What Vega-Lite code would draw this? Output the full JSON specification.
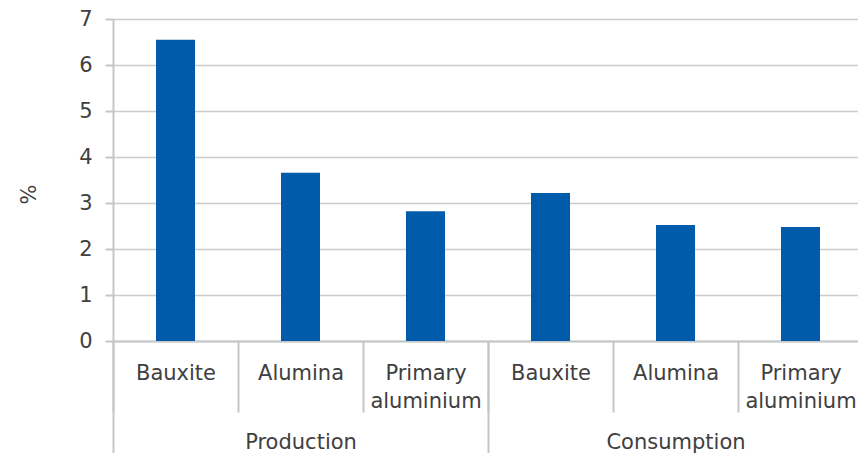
{
  "$schema": "https://vega.github.io/schema/vega-lite/v6.json",
  "width": 750,
  "height": 322,
  "autosize": "none",
  "padding": {"left": 113, "top": 19, "right": 0, "bottom": 112},
  "background": "#ffffff",
  "config": {
    "view": {"stroke": null},
    "font": "DejaVu Sans",
    "axis": {
      "labelFont": "DejaVu Sans",
      "titleFont": "DejaVu Sans",
      "labelFontSize": 21,
      "titleFontSize": 21,
      "labelColor": "#404040",
      "titleColor": "#404040",
      "titleFontWeight": "normal",
      "domainColor": "#C3C6C9",
      "tickColor": "#C3C6C9",
      "gridColor": "#CCCCCC",
      "domainWidth": 2,
      "tickWidth": 2,
      "gridWidth": 1.5
    }
  },
  "data": {
    "values": [
      {"stage": "Production", "product": "Bauxite", "slot": "Production|Bauxite", "value": 6.55},
      {"stage": "Production", "product": "Alumina", "slot": "Production|Alumina", "value": 3.66},
      {"stage": "Production", "product": "Primary aluminium", "slot": "Production|Primary aluminium", "value": 2.82},
      {"stage": "Consumption", "product": "Bauxite", "slot": "Consumption|Bauxite", "value": 3.22},
      {"stage": "Consumption", "product": "Alumina", "slot": "Consumption|Alumina", "value": 2.52},
      {"stage": "Consumption", "product": "Primary aluminium", "slot": "Consumption|Primary aluminium", "value": 2.48}
    ]
  },
  "layer": [
    {
      "mark": {"type": "bar", "width": 39, "color": "#005CAB"},
      "encoding": {
        "x": {
          "field": "slot",
          "type": "nominal",
          "sort": null,
          "scale": {"paddingInner": 0, "paddingOuter": 0},
          "axis": {
            "title": null,
            "orient": "bottom",
            "tickBand": "extent",
            "tickSize": 71,
            "labelPadding": -50,
            "labelAngle": 0,
            "labelBaseline": "top",
            "labelLineHeight": 28,
            "labelExpr": "datum.value ? split(split(datum.value, '|')[1], ' ') : ''"
          }
        },
        "y": {
          "field": "value",
          "type": "quantitative",
          "scale": {"domain": [0, 7], "nice": false},
          "axis": {
            "title": "%",
            "values": [0, 1, 2, 3, 4, 5, 6, 7],
            "grid": true,
            "tickSize": 8,
            "labelPadding": 13,
            "titleAngle": -90,
            "titleX": -84,
            "titleY": 175,
            "titleAlign": "center",
            "titleBaseline": "middle"
          }
        }
      }
    },
    {
      "mark": {"type": "point", "opacity": 0},
      "encoding": {
        "x": {
          "field": "stage",
          "type": "nominal",
          "sort": null,
          "scale": {"paddingInner": 0, "paddingOuter": 0},
          "axis": {
            "title": null,
            "orient": "bottom",
            "domain": false,
            "tickBand": "extent",
            "tickSize": 115,
            "labelPadding": -25,
            "labelAngle": 0,
            "labelBaseline": "top",
            "labelExpr": "datum.value ? datum.value : ''"
          }
        }
      }
    }
  ],
  "resolve": {"scale": {"x": "independent"}, "axis": {"x": "independent"}}
}
